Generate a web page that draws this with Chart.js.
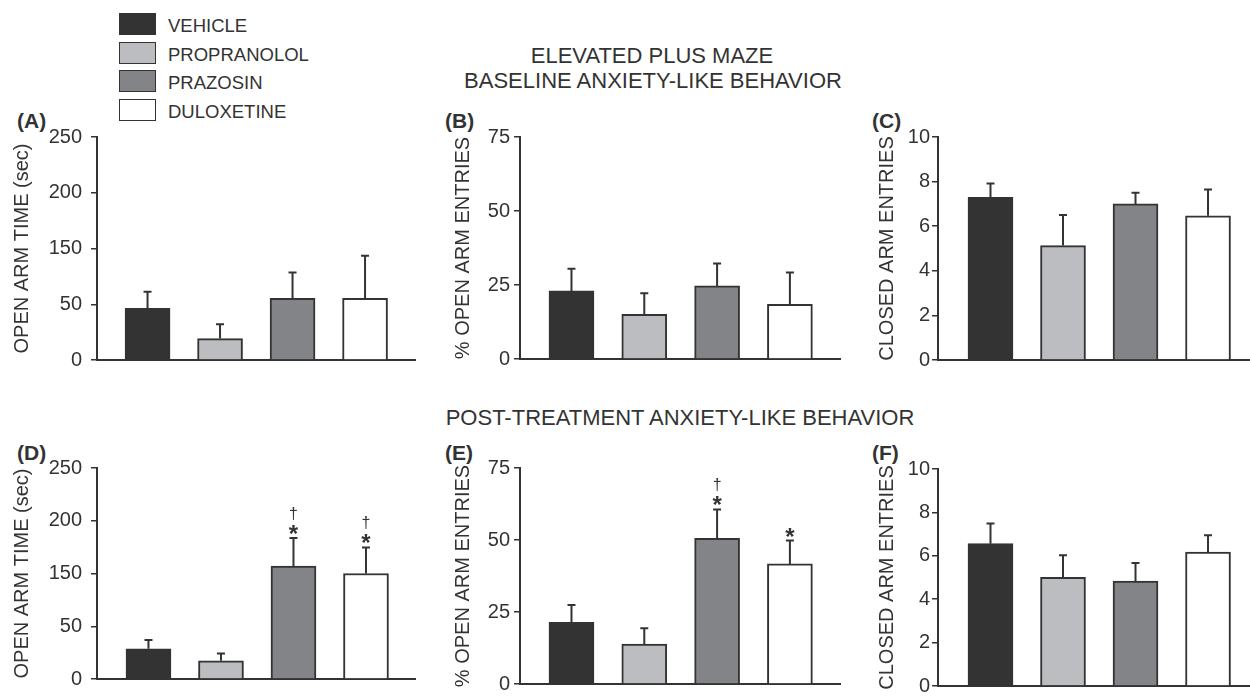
<!DOCTYPE html>
<html>
<head>
<meta charset="utf-8">
<script src="https://cdn.jsdelivr.net/npm/chart.js@4.4.1/dist/chart.umd.min.js"></script>
<style>
  body { margin:0; width:1250px; height:696px; overflow:hidden; background:#fff; position:relative;
         font-family:"Liberation Sans", Arial, sans-serif; color:#333; }
  canvas { position:absolute; }
  .title { position:absolute; font-size:22px; white-space:nowrap; transform:translate(-50%,-50%); }
  .letter { position:absolute; font-size:21px; font-weight:bold; line-height:21px; }
  .leg-box { position:absolute; left:119px; width:35px; height:20px; border:1.5px solid #333; }
  .leg-txt { position:absolute; left:168px; font-size:18.5px; line-height:23px; }
</style>
</head>
<body>

<div class="title" style="left:652px;top:56px;">ELEVATED PLUS MAZE</div>
<div class="title" style="left:653px;top:81px;">BASELINE ANXIETY-LIKE BEHAVIOR</div>
<div class="title" style="left:680px;top:418px;">POST-TREATMENT ANXIETY-LIKE BEHAVIOR</div>

<div class="letter" style="left:17px;top:110px;">(A)</div>
<div class="letter" style="left:445px;top:110px;">(B)</div>
<div class="letter" style="left:872px;top:110px;">(C)</div>
<div class="letter" style="left:17px;top:442px;">(D)</div>
<div class="letter" style="left:445px;top:442px;">(E)</div>
<div class="letter" style="left:872px;top:442px;">(F)</div>

<div id="legend"></div>

<canvas id="panelA" width="420" height="290" style="left:0px;top:100px;"></canvas>
<canvas id="panelB" width="430" height="290" style="left:420px;top:100px;"></canvas>
<canvas id="panelC" width="420" height="290" style="left:830px;top:100px;"></canvas>
<canvas id="panelD" width="420" height="270" style="left:0px;top:430px;"></canvas>
<canvas id="panelE" width="430" height="270" style="left:420px;top:430px;"></canvas>
<canvas id="panelF" width="420" height="270" style="left:830px;top:430px;"></canvas>

<script>
// groups
var groups = ['VEHICLE', 'PROPRANOLOL', 'PRAZOSIN', 'DULOXETINE'];
var groupColors = ['#333333', '#bcbdc0', '#838488', '#ffffff'];

// y tick labels (open arm time axis is labelled 0,50,150,200,250 at even spacing)
var timeTicks = ['0', '50', '150', '200', '250'];
var pctTicks = ['0', '25', '50', '75'];
var closedTicks = ['0', '2', '4', '6', '8', '10'];

// baseline (means and upper SEM)
var baseOpenTime = [58, 24, 69, 69];
var baseOpenTimeErr = [18.5, 16, 29, 48];
var baseOpenPct = [23.0, 15.1, 24.7, 18.5];
var baseOpenPctErr = [7.5, 7.1, 7.6, 10.7];
var baseClosed = [7.3, 5.13, 7.0, 6.47];
var baseClosedErr = [0.62, 1.37, 0.5, 1.18];

// post-treatment
var postOpenTime = [35.7, 21.5, 133.9, 125];
var postOpenTimeErr = [10.4, 8.6, 33.2, 30.9];
var postOpenPct = [21.4, 13.9, 50.6, 41.7];
var postOpenPctErr = [6.0, 5.5, 10.0, 8.1];
var postClosed = [6.56, 5.01, 4.83, 6.17];
var postClosedErr = [0.93, 1.02, 0.84, 0.78];

// significance marks
var noMarks = ['', '', '', ''];
var postOpenTimeMarks = ['', '', '†*', '†*'];
var postOpenPctMarks = ['', '', '†*', '*'];

// legend
var legend = document.getElementById('legend');
groups.forEach(function(g, i) {
  var top = 13 + i * 28.7;
  var box = document.createElement('div');
  box.className = 'leg-box';
  box.style.top = top + 'px';
  box.style.background = groupColors[i];
  legend.appendChild(box);
  var txt = document.createElement('div');
  txt.className = 'leg-txt';
  txt.style.top = (top + 1) + 'px';
  txt.textContent = g;
  legend.appendChild(txt);
});

var FONT = '"Liberation Sans", Arial, sans-serif';

var errorBars = {
  id: 'errorBars',
  afterDatasetsDraw: function(chart, args, opts) {
    var ctx = chart.ctx;
    var meta = chart.getDatasetMeta(0);
    var yScale = chart.scales.y;
    var data = chart.data.datasets[0].data;
    ctx.save();
    ctx.strokeStyle = '#333';
    ctx.fillStyle = '#333';
    ctx.lineWidth = 2;
    meta.data.forEach(function(bar, i) {
      var yTop = yScale.getPixelForValue(data[i].y + opts.err[i]);
      ctx.beginPath();
      ctx.moveTo(bar.x, bar.y);
      ctx.lineTo(bar.x, yTop);
      ctx.moveTo(bar.x - 4, yTop);
      ctx.lineTo(bar.x + 4, yTop);
      ctx.stroke();
      var m = opts.marks[i];
      ctx.textAlign = 'center';
      ctx.textBaseline = 'alphabetic';
      if (m.indexOf('*') >= 0) {
        ctx.font = 'bold 24px ' + FONT;
        ctx.fillText('*', bar.x, yTop + 4);
      }
      if (m.indexOf('†') >= 0) {
        ctx.font = '16px ' + FONT;
        ctx.fillText('†', bar.x, yTop - 19);
      }
    });
    ctx.restore();
  }
};

function makePanel(id, values, errs, marks, yMax, yStep, yTicks, yTitle, g) {
  var ctx = document.getElementById(id);
  return new Chart(ctx, {
    type: 'bar',
    data: {
      datasets: [{
        data: values.map(function(v, i) { return {x: i, y: v}; }),
        backgroundColor: groupColors,
        borderColor: '#333',
        borderWidth: 2,
        borderSkipped: 'bottom',
        barThickness: 45
      }]
    },
    plugins: [errorBars],
    options: {
      responsive: false,
      animation: false,
      layout: { padding: { left: 0, right: g.padR, top: g.padT, bottom: g.padB } },
      plugins: {
        legend: { display: false },
        tooltip: { enabled: false },
        errorBars: { err: errs, marks: marks }
      },
      scales: {
        x: {
          type: 'linear',
          offset: false,
          min: g.xMin,
          max: g.xMax,
          ticks: { display: false, stepSize: 1, includeBounds: false },
          grid: { display: false, offset: false },
          border: { display: true, color: '#333', width: 2 },
          afterFit: function(s) { s.height = 2; }
        },
        y: {
          min: 0,
          max: yMax,
          ticks: {
            stepSize: yStep,
            autoSkip: false,
            padding: g.tickPad,
            color: '#333',
            font: { size: 20, family: FONT },
            callback: function(v, i) { return yTicks[i]; }
          },
          grid: { drawOnChartArea: false, tickLength: 6, color: '#333', lineWidth: 1.5 },
          border: { display: true, color: '#333', width: 2 },
          title: {
            display: true,
            text: yTitle,
            color: '#333',
            font: { size: 20, family: FONT },
            padding: { top: g.titlePad, bottom: 0 }
          },
          afterFit: function(s) { s.width = g.yWidth; }
        }
      }
    }
  });
}

makePanel('panelA', baseOpenTime, baseOpenTimeErr, noMarks, 250, 62.5, timeTicks, 'OPEN ARM TIME (sec)',
  { padR: 5, padT: 37, padB: 28, yWidth: 97, xMin: -0.697, xMax: 3.689, tickPad: 9, titlePad: 10 });
makePanel('panelB', baseOpenPct, baseOpenPctErr, noMarks, 75, 25, pctTicks, '% OPEN ARM ENTRIES',
  { padR: 10, padT: 37, padB: 29, yWidth: 100, xMin: -0.707, xMax: 3.688, tickPad: 4, titlePad: 31 });
makePanel('panelC', baseClosed, baseClosedErr, noMarks, 10, 2, closedTicks, 'CLOSED ARM ENTRIES',
  { padR: 0, padT: 37, padB: 28, yWidth: 108, xMin: -0.724, xMax: 3.579, tickPad: 2, titlePad: 45 });

makePanel('panelD', postOpenTime, postOpenTimeErr, postOpenTimeMarks, 250, 62.5, timeTicks, 'OPEN ARM TIME (sec)',
  { padR: 5, padT: 38, padB: 6, yWidth: 97, xMin: -0.71, xMax: 3.676, tickPad: 9, titlePad: 10 });
makePanel('panelE', postOpenPct, postOpenPctErr, postOpenPctMarks, 75, 25, pctTicks, '% OPEN ARM ENTRIES',
  { padR: 10, padT: 38, padB: 7, yWidth: 100, xMin: -0.707, xMax: 3.688, tickPad: 4, titlePad: 31 });
makePanel('panelF', postClosed, postClosedErr, noMarks, 10, 2, closedTicks, 'CLOSED ARM ENTRIES',
  { padR: 0, padT: 39, padB: 5, yWidth: 108, xMin: -0.724, xMax: 3.579, tickPad: 2, titlePad: 45 });
</script>
</body>
</html>
